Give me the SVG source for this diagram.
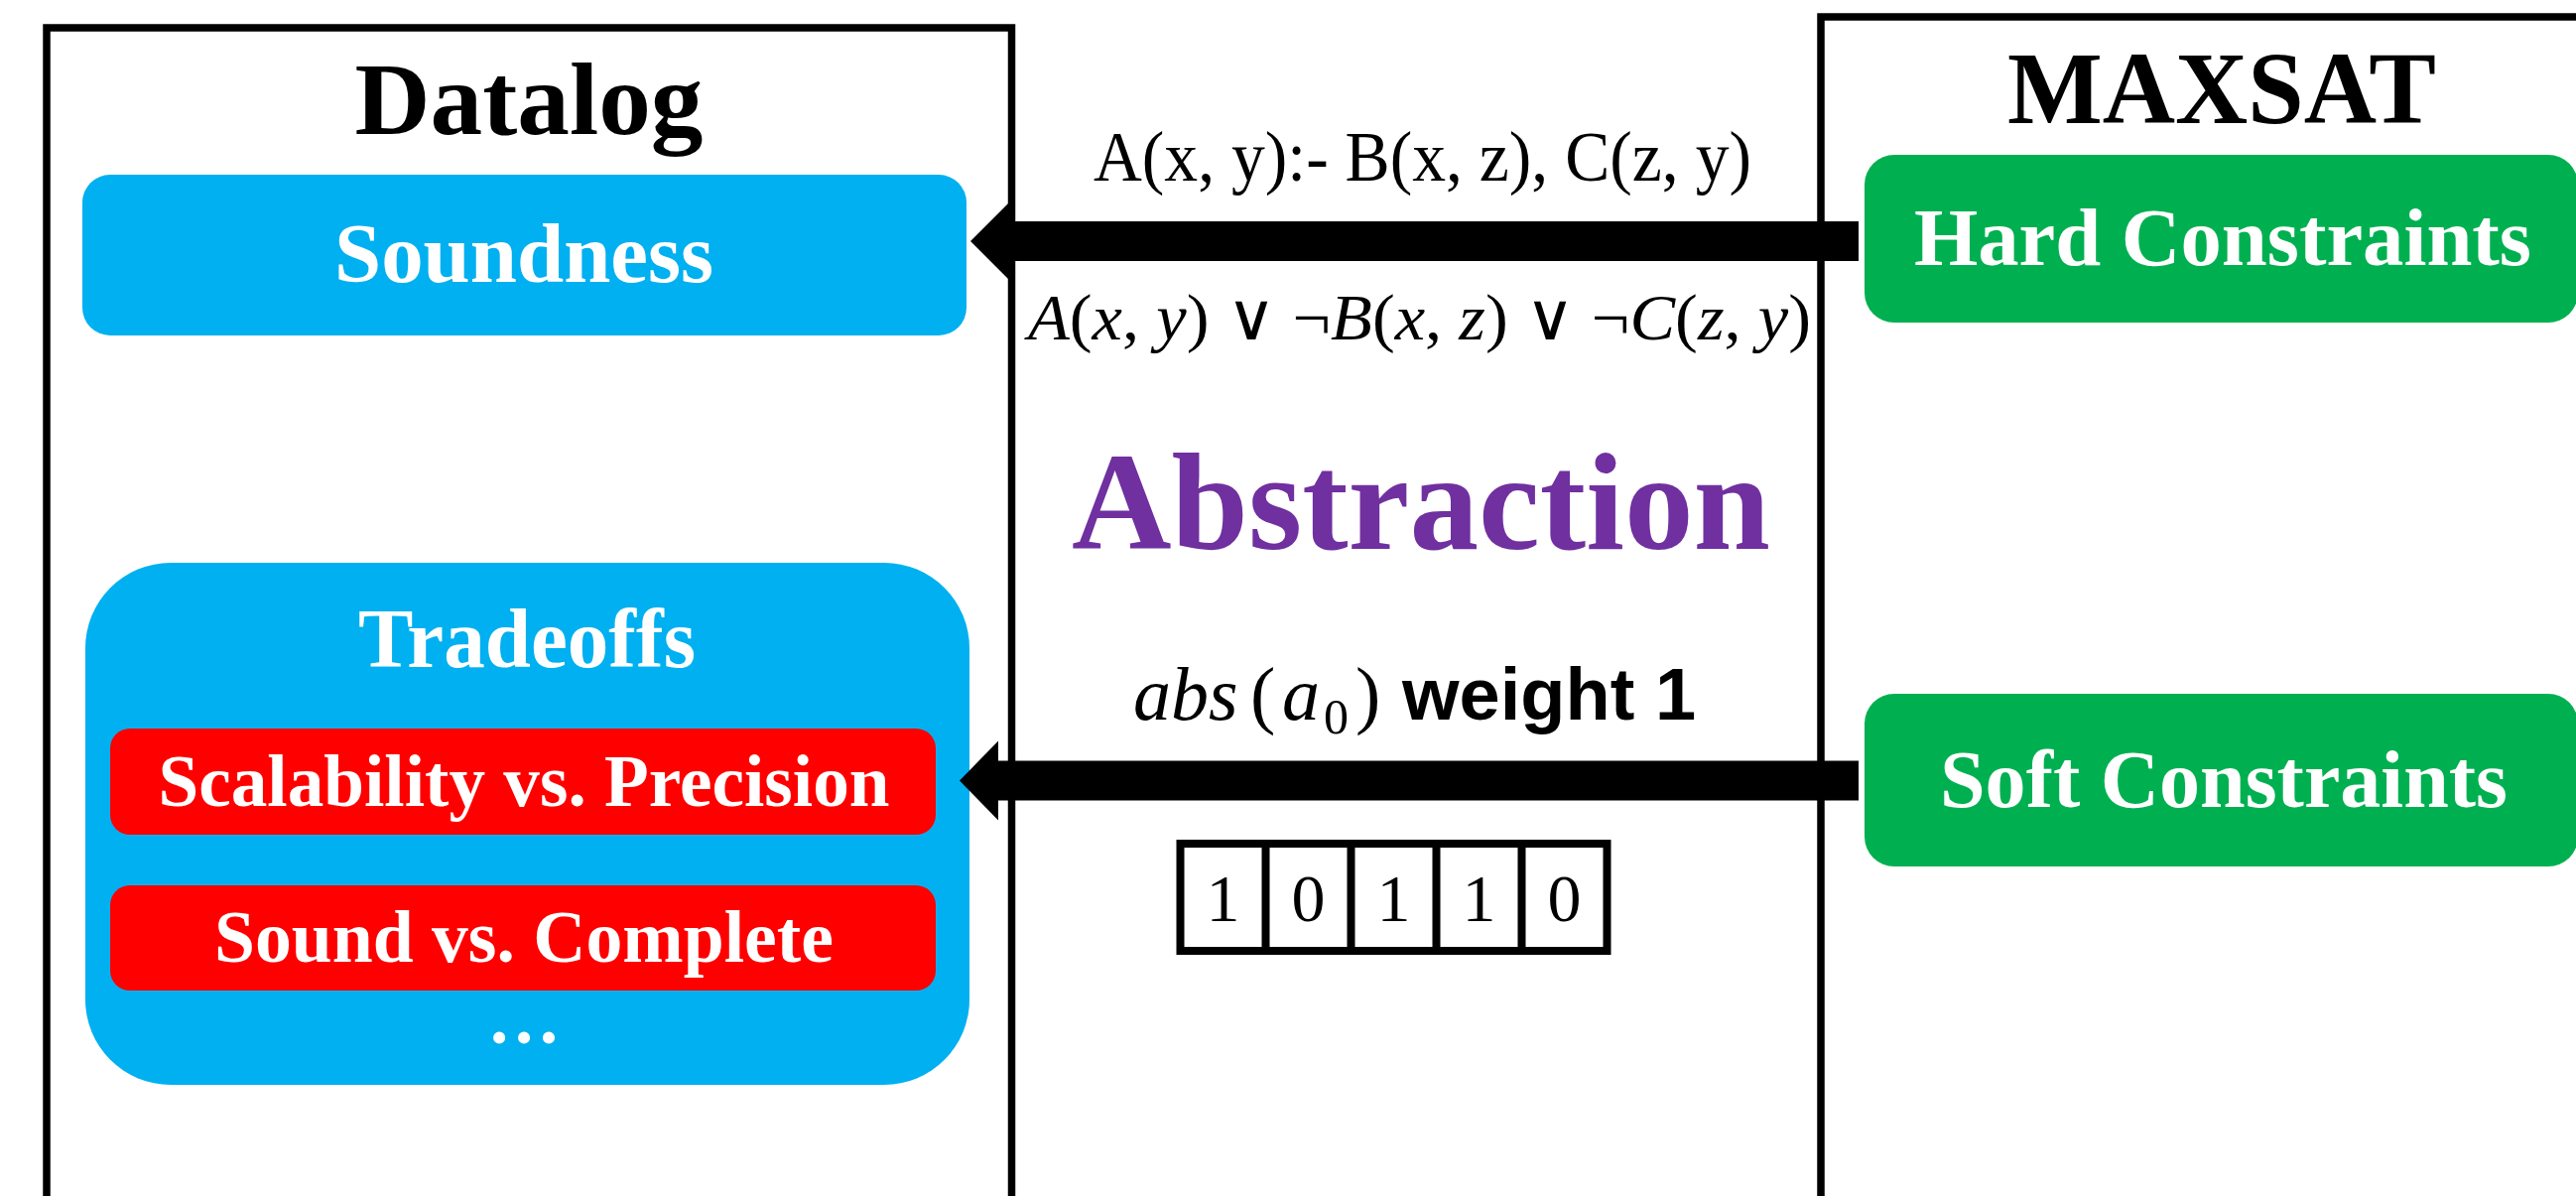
<svg xmlns="http://www.w3.org/2000/svg" width="2596" height="1205" viewBox="0 0 2596 1205">
<style>
.frame{fill:none;stroke:#000;stroke-width:7.5}
.t{font-family:"Liberation Serif","Times New Roman",serif;font-weight:bold;text-anchor:middle}
.w{fill:#fff}
.blue{fill:#00B0F0}
.green{fill:#00B050}
.red{fill:#FF0000}
.lbl{font-family:"Liberation Serif","Times New Roman",serif;fill:#000}
.it{font-style:italic}
.shaft{stroke:#000;stroke-width:40;fill:none}
.cell{fill:none;stroke:#000;stroke-width:8}
.bit{font-family:"Liberation Serif","Times New Roman",serif;font-size:68px;text-anchor:middle}
</style>
<defs>
<marker id="head" markerUnits="userSpaceOnUse" viewBox="0 0 38 76" markerWidth="38" markerHeight="76" refX="0" refY="38" orient="auto">
<path d="M0,0 L38,38 L0,76 Z" fill="#000"/>
</marker>
<marker id="head2" markerUnits="userSpaceOnUse" viewBox="0 0 39 80" markerWidth="39" markerHeight="80" refX="0" refY="40" orient="auto">
<path d="M0,0 L39,40 L0,80 Z" fill="#000"/>
</marker>
</defs>
<rect width="2596" height="1205" fill="#fff"/>

<g id="datalog">
<rect class="frame" x="47" y="28" width="972.5" height="1300"/>
<text class="t" x="533" y="135" font-size="104" textLength="351" lengthAdjust="spacingAndGlyphs">Datalog</text>
</g>

<g id="maxsat">
<rect class="frame" x="1835" y="17" width="1000" height="1300"/>
<text class="t" x="2239" y="124" font-size="104" textLength="432" lengthAdjust="spacingAndGlyphs">MAXSAT</text>
</g>

<g id="soundness">
<rect class="blue" x="83" y="176" width="891" height="162" rx="28"/>
<text class="t w" x="528" y="284" font-size="85" textLength="382" lengthAdjust="spacingAndGlyphs">Soundness</text>
</g>

<g id="tradeoffs">
<rect class="blue" x="86" y="567" width="891" height="526" rx="86"/>
<text class="t w" x="531" y="672" font-size="84" textLength="340" lengthAdjust="spacingAndGlyphs">Tradeoffs</text>
<text class="t w" x="528" y="1051" font-size="74">…</text>
</g>

<g id="scalability">
<rect class="red" x="111" y="734" width="832" height="107" rx="20"/>
<text class="t w" x="528" y="812" font-size="74" textLength="737" lengthAdjust="spacingAndGlyphs">Scalability vs. Precision</text>
</g>

<g id="sound-complete">
<rect class="red" x="111" y="892" width="832" height="106" rx="20"/>
<text class="t w" x="528" y="969" font-size="74" textLength="624" lengthAdjust="spacingAndGlyphs">Sound vs. Complete</text>
</g>

<g id="hard">
<rect class="green" x="1879" y="156" width="719" height="169" rx="30"/>
<text class="t w" x="2240" y="267" font-size="82" textLength="622" lengthAdjust="spacingAndGlyphs">Hard Constraints</text>
</g>

<g id="soft">
<rect class="green" x="1879" y="699" width="719" height="174" rx="30"/>
<text class="t w" x="2241" y="813" font-size="82" textLength="572" lengthAdjust="spacingAndGlyphs">Soft Constraints</text>
</g>

<g id="connectors">
<line class="shaft" x1="1873" y1="243" x2="1016" y2="243" marker-end="url(#head)"/>
<line class="shaft" x1="1873" y1="786.5" x2="1006" y2="786.5" marker-end="url(#head2)"/>
</g>

<g id="labels">
<text class="lbl" x="1433.5" y="182" font-size="72" text-anchor="middle" textLength="663" lengthAdjust="spacingAndGlyphs">A(x, y):- B(x, z), C(z, y)</text>
<text class="lbl" x="1430.5" y="342" font-size="66" text-anchor="middle" textLength="789" lengthAdjust="spacingAndGlyphs"><tspan class="it">A</tspan>(<tspan class="it">x</tspan>, <tspan class="it">y</tspan>) ∨ ¬<tspan class="it">B</tspan>(<tspan class="it">x</tspan>, <tspan class="it">z</tspan>) ∨ ¬<tspan class="it">C</tspan>(<tspan class="it">z</tspan>, <tspan class="it">y</tspan>)</text>
<text class="t" x="1432" y="553" font-size="139" fill="#7030A0" textLength="704" lengthAdjust="spacingAndGlyphs">Abstraction</text>
<text class="lbl" y="725" font-size="76"><tspan class="it" x="1142">abs</tspan><tspan x="1260">(</tspan><tspan class="it" x="1292">a</tspan><tspan x="1334" dy="14" font-size="50">0</tspan><tspan x="1366" dy="-14">)</tspan><tspan x="1413" font-family="Liberation Sans, Arial, sans-serif" font-weight="bold" font-size="74">weight 1</tspan></text>
</g>

<g id="bits">
<rect class="cell" x="1189.5" y="850" width="430" height="108"/>
<line class="cell" x1="1275.5" y1="850" x2="1275.5" y2="958"/>
<line class="cell" x1="1361.5" y1="850" x2="1361.5" y2="958"/>
<line class="cell" x1="1447.5" y1="850" x2="1447.5" y2="958"/>
<line class="cell" x1="1533.5" y1="850" x2="1533.5" y2="958"/>
<text class="bit" x="1232.5" y="928">1</text>
<text class="bit" x="1318.5" y="928">0</text>
<text class="bit" x="1404.5" y="928">1</text>
<text class="bit" x="1490.5" y="928">1</text>
<text class="bit" x="1576.5" y="928">0</text>
</g>
</svg>
